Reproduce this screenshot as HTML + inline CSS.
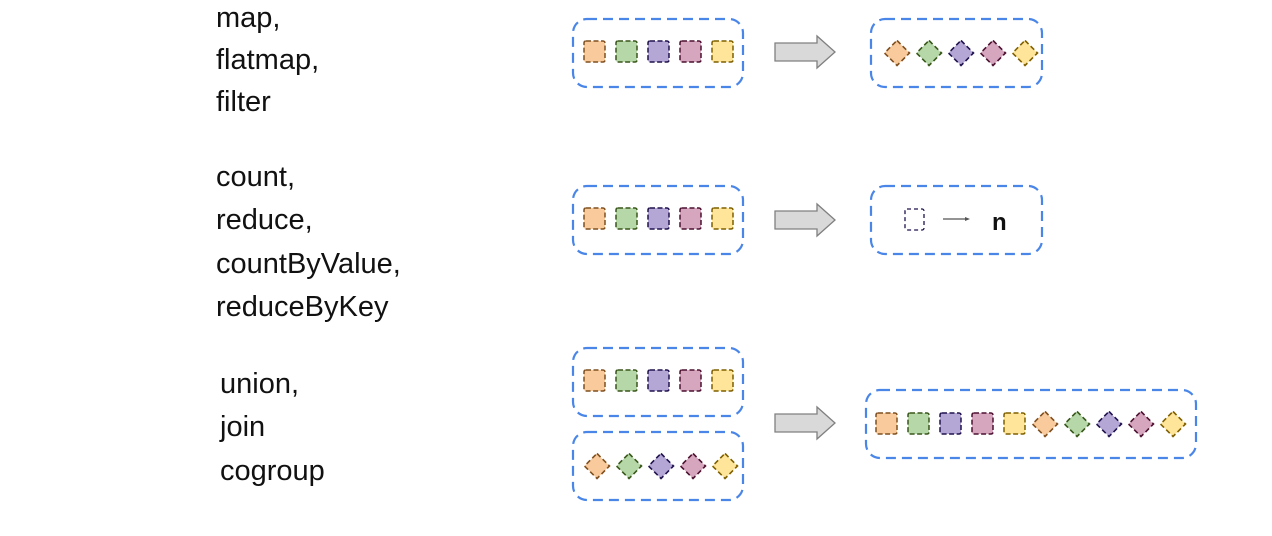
<!DOCTYPE html>
<html><head><meta charset="utf-8">
<style>
html,body{margin:0;padding:0;background:#fff;}
svg{display:block;}
text{font-family:"Liberation Sans",sans-serif;fill:#111;}
</style></head>
<body>
<svg id="s" width="1272" height="536" viewBox="0 0 1272 536" xmlns="http://www.w3.org/2000/svg">
<g font-size="29">
<text x="216" y="27">map,</text>
<text x="216" y="69">flatmap,</text>
<text x="216" y="111">filter</text>
<text x="216" y="186">count,</text>
<text x="216" y="229">reduce,</text>
<text x="216" y="273">countByValue,</text>
<text x="216" y="316">reduceByKey</text>
<text x="220" y="393">union,</text>
<text x="220" y="436">join</text>
<text x="220" y="480">cogroup</text>
</g>
<g id="boxes"></g>
<g id="items"></g>
<g id="arrows"></g>
<g>
<rect x="905" y="209" width="19" height="21" fill="none" stroke="#20124d" stroke-width="1.3" stroke-dasharray="4,3" rx="2"/>
<line x1="943" y1="219" x2="966" y2="219" stroke="#555" stroke-width="1.2"/>
<path d="M965,217 L970,219 L965,221 Z" fill="#555"/>
<text x="992" y="230" font-size="24" font-weight="bold">n</text>
</g>
</svg>
<script>
const fills=["#f9cb9c","#b6d7a8","#b4a7d6","#d5a6bd","#ffe599"];
const strokes=["#7f4f1f","#38571a","#20124d","#4c1130","#7f6000"];
const boxes=[[573,19,170,68],[871,19,171,68],[573,186,170,68],[871,186,171,68],[573,348,170,68],[573,432,170,68],[866,390,330,68]];
const squareRows=[[584,41],[584,208],[584,370],[876,413]];
const diamondRows=[[897,53],[597,466],[1045,424]];
const arrowY=[52,220,423];
const NS="http://www.w3.org/2000/svg";
function mk(t,a,p){const e=document.createElementNS(NS,t);for(const k in a)e.setAttribute(k,a[k]);p.appendChild(e);return e;}
const gb=document.getElementById('boxes'),gi=document.getElementById('items'),ga=document.getElementById('arrows');
boxes.forEach(b=>{const r=mk('rect',{x:b[0],y:b[1],width:b[2],height:b[3],rx:14,fill:'none',stroke:'#4a86e8','stroke-width':2.2,'stroke-dasharray':'10,6'},gb);

});
squareRows.forEach(s=>{for(let i=0;i<5;i++){const r=mk('rect',{x:s[0]+i*32,y:s[1],width:21,height:21,rx:2,fill:fills[i],stroke:strokes[i],'stroke-width':1.5,'stroke-dasharray':'5,2.5'},gi);

}});
diamondRows.forEach(d=>{for(let i=0;i<5;i++){const cx=d[0]+i*32,cy=d[1],h=12.5;const p=mk('path',{d:`M${cx},${cy-h} L${cx+h},${cy} L${cx},${cy+h} L${cx-h},${cy} Z`,fill:fills[i],stroke:strokes[i],'stroke-width':1.6,'stroke-dasharray':'5,3'},gi);

}});
arrowY.forEach(y=>{const p=mk('path',{d:`M775,${y-9} L817,${y-9} L817,${y-16} L835,${y} L817,${y+16} L817,${y+9} L775,${y+9} Z`,fill:'#d9d9d9',stroke:'#808080','stroke-width':1.3},ga);

});
</script>
</body></html>
